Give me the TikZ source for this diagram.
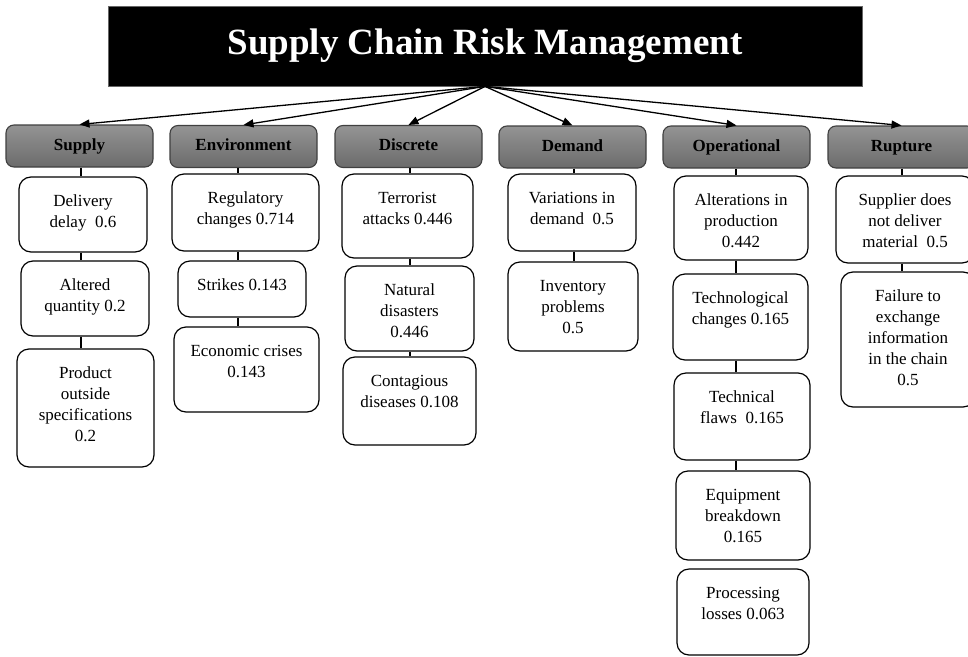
\documentclass[tikz,border=0pt]{standalone}
\usepackage{fontspec}
\setmainfont{Liberation Serif}
\usetikzlibrary{arrows.meta}
\tikzset{
  riskbox/.style={draw=black, line width=1.2pt, fill=white, rounded corners=12pt, inner sep=0pt,
    font=\fontsize{17}{21}\selectfont},
  hdrbox/.style={draw=black!75, line width=1.1pt, top color=black!42, bottom color=black!58,
    rounded corners=8pt, minimum width=147pt, minimum height=42pt, inner sep=0pt,
    font=\fontsize{17}{21}\selectfont\bfseries, text height=12pt, text depth=4pt},
  titlebox/.style={fill=black, draw=black!60, line width=0.8pt, minimum width=754pt, minimum height=80pt,
    inner sep=0pt, text=white, font=\fontsize{37}{40}\selectfont\bfseries},
  arr/.style={line width=1.3pt, -{Triangle[length=10pt,width=8pt]}},
  conn/.style={line width=2.4pt}
}
\newcommand{\mkbox}[6]{%
  \pgfmathsetmacro\bw{#4-#2}\pgfmathsetmacro\bh{#5-#3}\pgfmathsetmacro\tw{#4-#2-6}%
  \pgfmathsetmacro\bx{(#2+#4)/2}\pgfmathsetmacro\by{(#3+#5)/2}%
  \node[riskbox, minimum width=\bw pt, minimum height=\bh pt] (#1) at (\bx,\by)
    {\parbox[c][\bh pt][t]{\tw pt}{\centering\rule{0pt}{29pt}#6}};}
\begin{document}
\begin{tikzpicture}[x=1pt,y=-1pt]
\clip (0,0) rectangle (968,656);
\fill[white] (0,0) rectangle (968,656);
% title
\node[titlebox] (title) at (485,46) {\raisebox{2.5pt}{Supply Chain Risk Management}};
% headers
\node[hdrbox] (supply) at (79.5,146) {Supply};
\node[hdrbox] (env) at (243.5,146.5) {Environment};
\node[hdrbox] (disc) at (408.5,146.5) {Discrete};
\node[hdrbox] (dem) at (572.5,147) {Demand};
\node[hdrbox] (oper) at (736.5,147) {Operational};
\node[hdrbox] (rupt) at (901.5,147) {Rupture};
% arrows
\foreach \h in {supply,env,disc,dem,oper,rupt}
  \draw[arr] (title.south) -- (\h.north);
% column x coordinates
\coordinate (xs) at (81,0);
\coordinate (xe) at (238,0);
\coordinate (xd) at (410,0);
\coordinate (xm) at (574,0);
\coordinate (xo) at (736,0);
\coordinate (xr) at (902,0);
% children
\mkbox{s1}{19}{177}{147}{252}{Delivery\\delay\ \ 0.6}
\mkbox{s2}{21}{261}{149}{336}{Altered\\quantity 0.2}
\mkbox{s3}{17}{349}{154}{467}{Product\\outside\\specifications\\0.2}
\mkbox{e1}{172}{174}{319}{251}{Regulatory\\changes 0.714}
\mkbox{e2}{178}{261}{306}{317}{Strikes 0.143}
\mkbox{e3}{174}{327}{319}{412}{Economic crises\\0.143}
\mkbox{d1}{342}{174}{473}{258}{Terrorist\\attacks 0.446}
\mkbox{d2}{345}{266}{474}{351}{Natural\\disasters\\0.446}
\mkbox{d3}{343}{357}{476}{445}{Contagious\\diseases 0.108}
\mkbox{m1}{508}{174}{636}{251}{Variations in\\demand\ \ 0.5}
\mkbox{m2}{508}{262}{638}{351}{Inventory\\problems\\0.5}
\mkbox{o1}{674}{176}{808}{260}{Alterations in\\production\\0.442}
\mkbox{o2}{673}{274}{808}{360}{Technological\\changes 0.165}
\mkbox{o3}{674}{373}{810}{460}{Technical\\flaws\ \ 0.165}
\mkbox{o4}{676}{471}{810}{560}{Equipment\\breakdown\\0.165}
\mkbox{o5}{677}{569}{809}{655}{Processing\\losses 0.063}
\mkbox{r1}{836}{176}{974}{263}{Supplier does\\not deliver\\material\ \ 0.5}
\mkbox{r2}{841}{272}{975}{407}{Failure to\\exchange\\information\\in the chain\\0.5}
% connectors
\draw[conn] (supply.south -| xs) -- (s1.north -| xs);
\draw[conn] (s1.south -| xs) -- (s2.north -| xs);
\draw[conn] (s2.south -| xs) -- (s3.north -| xs);
\draw[conn] (env.south -| xe) -- (e1.north -| xe);
\draw[conn] (e1.south -| xe) -- (e2.north -| xe);
\draw[conn] (e2.south -| xe) -- (e3.north -| xe);
\draw[conn] (disc.south -| xd) -- (d1.north -| xd);
\draw[conn] (d1.south -| xd) -- (d2.north -| xd);
\draw[conn] (d2.south -| xd) -- (d3.north -| xd);
\draw[conn] (dem.south -| xm) -- (m1.north -| xm);
\draw[conn] (m1.south -| xm) -- (m2.north -| xm);
\draw[conn] (oper.south -| xo) -- (o1.north -| xo);
\draw[conn] (o1.south -| xo) -- (o2.north -| xo);
\draw[conn] (o2.south -| xo) -- (o3.north -| xo);
\draw[conn] (o3.south -| xo) -- (o4.north -| xo);
\draw[conn] (rupt.south -| xr) -- (r1.north -| xr);
\draw[conn] (r1.south -| xr) -- (r2.north -| xr);
\end{tikzpicture}
\end{document}
